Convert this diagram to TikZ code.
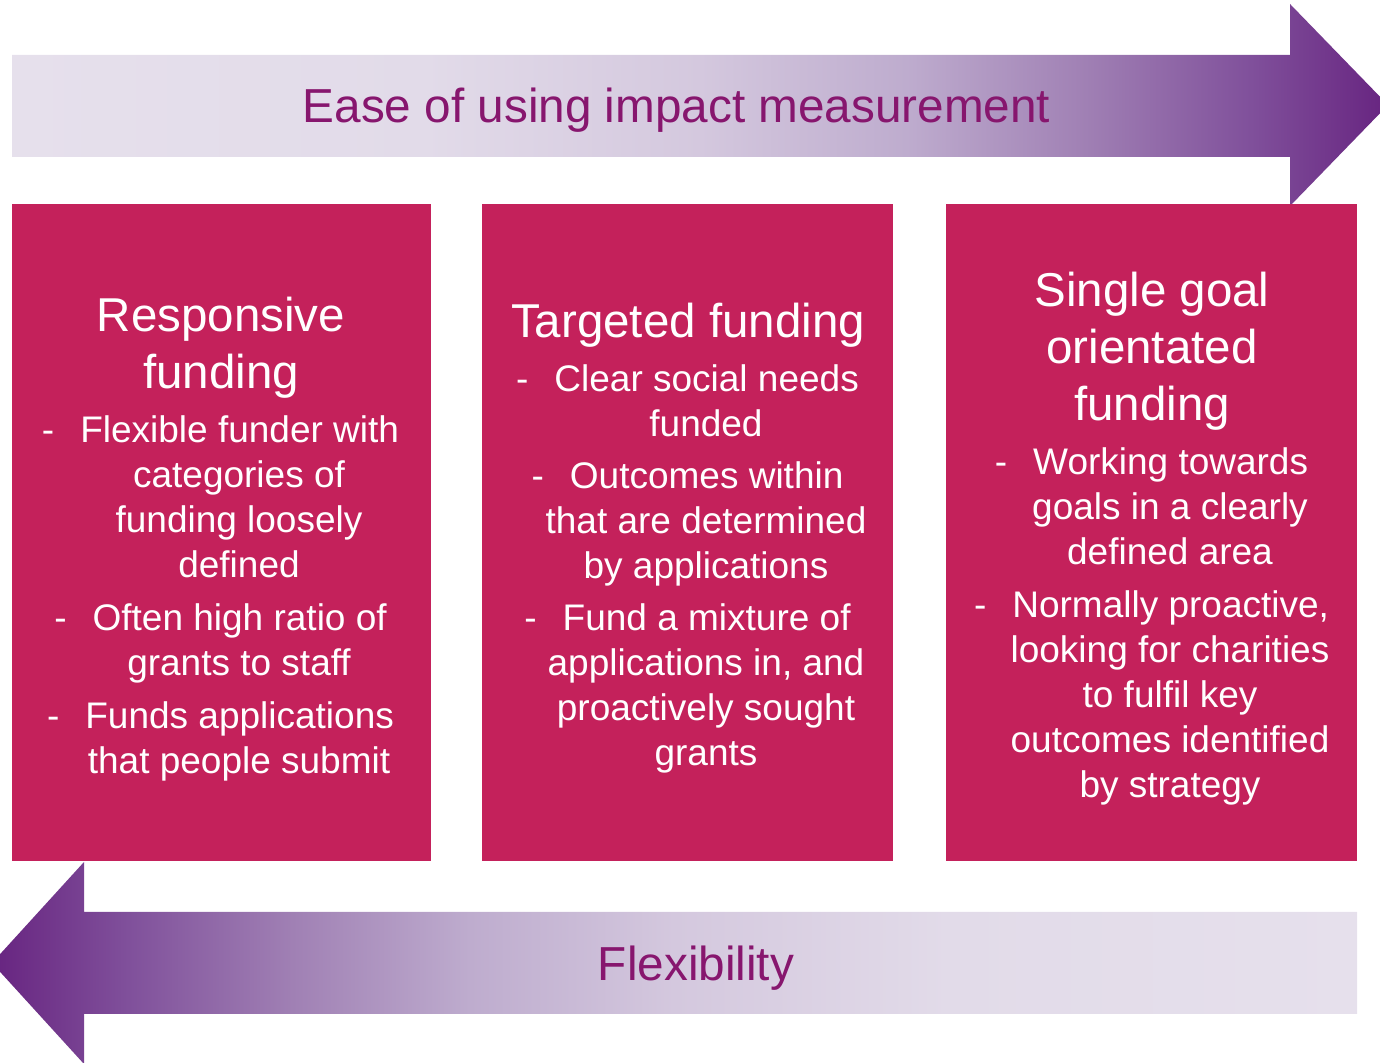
\documentclass[tikz,border=0pt]{standalone}
\usepackage{fontspec}
\setmainfont{Liberation Sans}
\definecolor{boxfill}{RGB}{196,33,91}
\definecolor{labelcol}{RGB}{135,22,110}
\definecolor{lavA}{RGB}{230,224,236}
\definecolor{lavB}{RGB}{226,219,233}
\definecolor{lavC}{RGB}{212,200,222}
\definecolor{lavD}{RGB}{190,172,206}
\definecolor{lavE}{RGB}{160,128,180}
\definecolor{lavF}{RGB}{128,80,155}
\definecolor{lavG}{RGB}{103,36,128}
\pgfdeclarehorizontalshading{easeshade}{100bp}{color(0bp)=(lavA); color(25bp)=(lavA);
  color(40bp)=(lavB); color(50bp)=(lavC); color(57.5bp)=(lavD); color(64bp)=(lavE);
  color(70bp)=(lavF); color(75bp)=(lavG); color(100bp)=(lavG)}
\pgfdeclarehorizontalshading{flexshade}{100bp}{color(0bp)=(lavG); color(25bp)=(lavG);
  color(30bp)=(lavF); color(36bp)=(lavE); color(42.5bp)=(lavD); color(50bp)=(lavC);
  color(60bp)=(lavB); color(75bp)=(lavA); color(100bp)=(lavA)}
\newcommand{\bul}{\hspace*{-37bp}-\hspace{26bp}}
\tikzset{
  fundbox/.style={fill=boxfill, draw=none, anchor=north west, inner sep=0pt, minimum height=657bp},
  headtext/.style={text=white, align=center, anchor=base, inner sep=0pt, font=\fontsize{47.5bp}{57bp}\selectfont},
  itemtext/.style={text=white, align=center, anchor=base, inner sep=0pt, font=\fontsize{37bp}{45bp}\selectfont},
  arrowtext/.style={text=labelcol, anchor=base, inner sep=0pt, font=\fontsize{47.7bp}{57bp}\selectfont},
}
\begin{document}
\begin{tikzpicture}
  \useasboundingbox (0bp,0bp) rectangle (1380bp,1063bp);
  % Arrow: ease
  \shade[shading=easeshade] (12bp,1008bp) -- (1290bp,1008bp) -- (1290bp,1059bp) -- (1388bp,958bp)
    -- (1290bp,857bp) -- (1290bp,906bp) -- (12bp,906bp) -- cycle;
  \node[arrowtext] (ease) at (676.5bp,940bp) {Ease of using impact measurement};
  % Arrow: flex
  \shade[shading=flexshade] (1357bp,151bp) -- (84bp,151bp) -- (84bp,201bp) -- (-8bp,100bp)
    -- (84bp,-1bp) -- (84bp,49bp) -- (1357bp,49bp) -- cycle;
  \node[arrowtext] (flex) at (696bp,82bp) {Flexibility};
  % Node: resp (base = last line)
  \node[fundbox, minimum width=419bp] (resp) at (12bp,859bp) {};
  \node[headtext] (resptitle) at (221bp,674bp) {Responsive\\funding};
  \node[itemtext] (resp1) at (239bp,485bp) {\bul Flexible funder with\\categories of\\funding loosely\\defined};
  \node[itemtext] (resp2) at (239bp,387bp) {\bul Often high ratio of\\grants to staff};
  \node[itemtext] (resp3) at (239bp,289bp) {\bul Funds applications\\that people submit};
  % Node: targ
  \node[fundbox, minimum width=411bp] (targ) at (482bp,859bp) {};
  \node[headtext] (targtitle) at (688bp,725bp) {Targeted funding};
  \node[itemtext] (targ1) at (706bp,626bp) {\bul Clear social needs\\funded};
  \node[itemtext] (targ2) at (706bp,484bp) {\bul Outcomes within\\that are determined\\by applications};
  \node[itemtext] (targ3) at (706bp,297bp) {\bul Fund a mixture of\\applications in, and\\proactively sought\\grants};
  % Node: sing
  \node[fundbox, minimum width=411bp] (sing) at (946bp,859bp) {};
  \node[headtext] (singtitle) at (1152bp,642bp) {Single goal\\orientated\\funding};
  \node[itemtext] (sing1) at (1170bp,498bp) {\bul Working towards\\goals in a clearly\\defined area};
  \node[itemtext] (sing2) at (1170bp,265bp) {\bul Normally proactive,\\looking for charities\\to fulfil key\\outcomes identified\\by strategy};
%
\end{tikzpicture}
\end{document}
